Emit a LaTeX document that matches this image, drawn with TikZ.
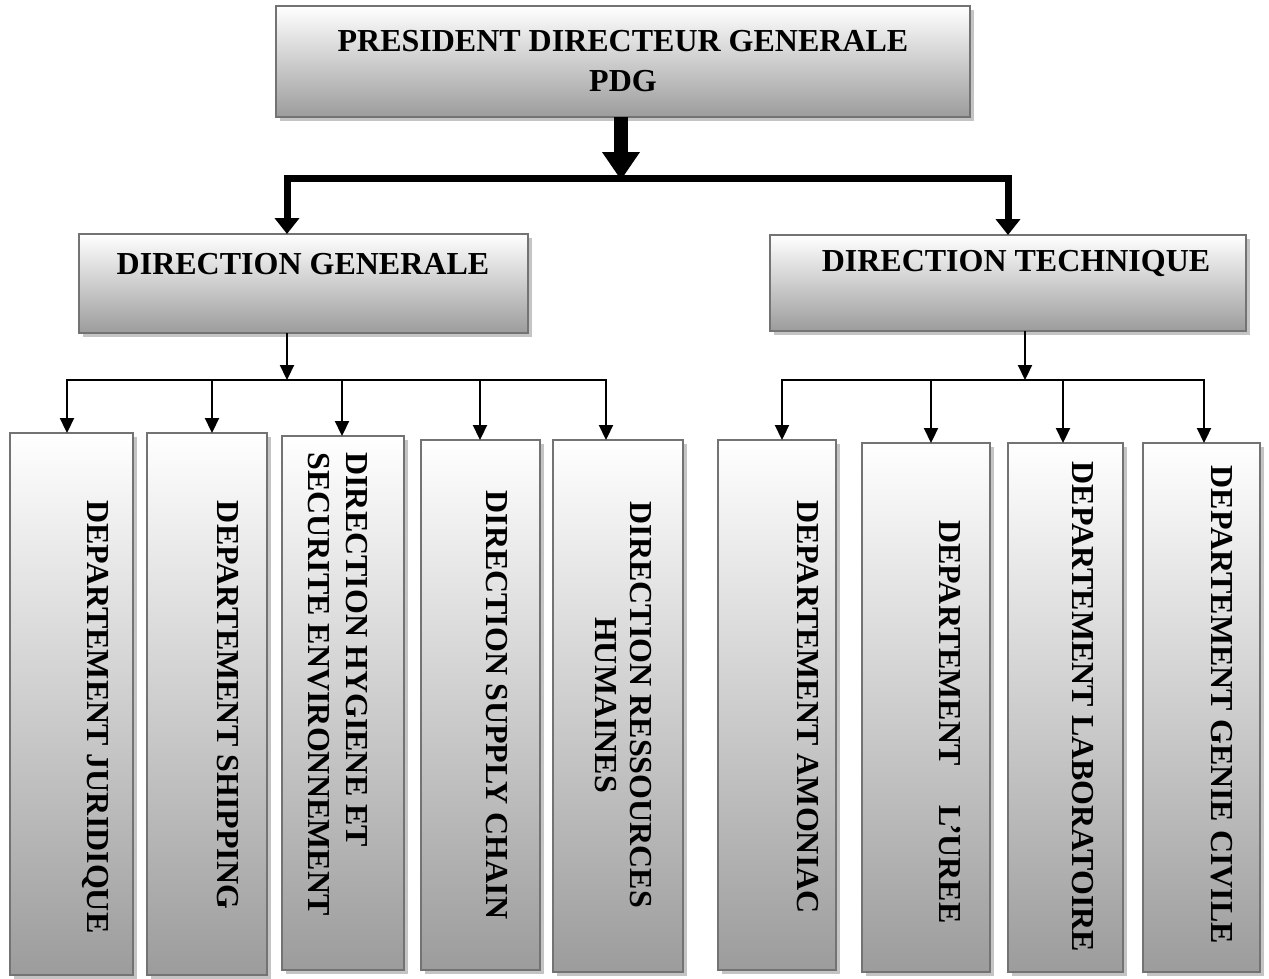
\documentclass[tikz,border=0pt]{standalone}
\usepackage{fontspec}
\setmainfont{Liberation Serif}
\usetikzlibrary{arrows.meta,shadows}

\definecolor{edgegray}{HTML}{737373}
\definecolor{shadegray}{HTML}{9C9C9C}
\definecolor{shadowgray}{HTML}{C4C4C4}

\tikzset{
  unitbox/.style={rectangle, draw=edgegray, line width=2pt, top color=white,
    bottom color=shadegray, inner sep=0pt, outer sep=0pt,
    general shadow={fill=shadowgray, shadow xshift=4pt, shadow yshift=-4pt}},
  txt/.style={font=\bfseries\fontsize{32}{38}\selectfont, inner sep=0pt, align=center},
  vtxt/.style={txt, rotate=-90},
  heavyarrow/.style={line width=14pt, -{Triangle[width=36pt,length=28pt]}},
  heavybus/.style={line width=7pt, line join=miter,
    {Triangle[width=24pt,length=16pt]}-{Triangle[width=24pt,length=16pt]}},
  thinarrow/.style={line width=2.2pt, -{Triangle[width=14pt,length=15pt]}},
  thinbus/.style={line width=2.2pt, line cap=rect}
}

\begin{document}
\begin{tikzpicture}[x=1pt, y=-1pt]
\useasboundingbox[fill=white] (0,0) rectangle (1269,978);

% top management
\node[unitbox, minimum width=694pt, minimum height=111pt] (pdg) at (623,61.5) {};
\node[txt, font=\bfseries\fontsize{32}{40}\selectfont] (pdgt) at (623,61) {PRESIDENT DIRECTEUR GENERALE\\PDG};

% the two directions
\node[unitbox, minimum width=449pt, minimum height=99pt] (dg) at (303.5,283.5) {};
\node[txt] (dgt) at (303,264) {DIRECTION GENERALE};
\node[unitbox, minimum width=476pt, minimum height=96pt] (dt) at (1008,283) {};
\node[txt] (dtt) at (1016,263) {DIRECTION TECHNIQUE};

% departments under the general direction
\node[unitbox, minimum width=123pt, minimum height=542pt] (b1) at (71.5,704) {};
\node[unitbox, minimum width=120pt, minimum height=542pt] (b2) at (207,704) {};
\node[unitbox, minimum width=122pt, minimum height=534pt] (b3) at (343,703) {};
\node[unitbox, minimum width=119pt, minimum height=530pt] (b4) at (480.5,705) {};
\node[unitbox, minimum width=130pt, minimum height=532pt] (b5) at (618,706) {};

% departments under the technical direction
\node[unitbox, minimum width=118pt, minimum height=530pt] (b6) at (777,705) {};
\node[unitbox, minimum width=128pt, minimum height=529pt] (b7) at (926,707.5) {};
\node[unitbox, minimum width=115pt, minimum height=529pt] (b8) at (1065.5,707.5) {};
\node[unitbox, minimum width=117pt, minimum height=529pt] (b9) at (1201.5,707.5) {};

% vertical labels
\node[vtxt] (t1) at (95,717) {DEPARTEMENT JURIDIQUE};
\node[vtxt] (t2) at (228,705) {DEPARTEMENT SHIPPING};
\node[vtxt, align=left] (t3) at (338,684) {DIRECTION HYGIENE ET\\SECURITE ENVIRONNEMENT};
\node[vtxt] (t4) at (497,705) {DIRECTION SUPPLY CHAIN};
\node[vtxt, font=\bfseries\fontsize{32}{35}\selectfont] (t5) at (623,705) {DIRECTION RESSOURCES\\HUMAINES};
\node[vtxt] (t6) at (808,707) {DEPARTEMENT AMONIAC};
\node[vtxt] (t7) at (950,722) {DEPARTEMENT\hspace*{40pt}L’UREE};
\node[vtxt] (t8) at (1083,707) {DEPARTEMENT LABORATOIRE};
\node[vtxt] (t9) at (1222,705) {DEPARTEMENT GENIE CIVILE};

% main connector from the PDG
\coordinate (top) at (621,180);
\coordinate (dl) at (287,178);
\coordinate (dr) at (1008,178);
\draw[heavybus] (dl |- dg.north) -- (dl) -- (dr) -- (dr |- dt.north);
\draw[heavyarrow] (top |- pdg.south) -- (top);

% general direction branch
\coordinate (lb) at (287,380);
\coordinate (l1) at (67,380);
\coordinate (l2) at (212,380);
\coordinate (l3) at (342,380);
\coordinate (l4) at (480,380);
\coordinate (l5) at (606,380);
\draw[thinarrow] (lb |- dg.south) -- (lb);
\draw[thinbus] (l1) -- (l5);
\draw[thinarrow] (l1) -- (l1 |- b1.north);
\draw[thinarrow] (l2) -- (l2 |- b2.north);
\draw[thinarrow] (l3) -- (l3 |- b3.north);
\draw[thinarrow] (l4) -- (l4 |- b4.north);
\draw[thinarrow] (l5) -- (l5 |- b5.north);

% technical direction branch
\coordinate (rb) at (1025,380);
\coordinate (r1) at (782,380);
\coordinate (r2) at (931,380);
\coordinate (r3) at (1063,380);
\coordinate (r4) at (1204,380);
\draw[thinarrow] (rb |- dt.south) -- (rb);
\draw[thinbus] (r1) -- (r4);
\draw[thinarrow] (r1) -- (r1 |- b6.north);
\draw[thinarrow] (r2) -- (r2 |- b7.north);
\draw[thinarrow] (r3) -- (r3 |- b8.north);
\draw[thinarrow] (r4) -- (r4 |- b9.north);
\end{tikzpicture}
\end{document}
